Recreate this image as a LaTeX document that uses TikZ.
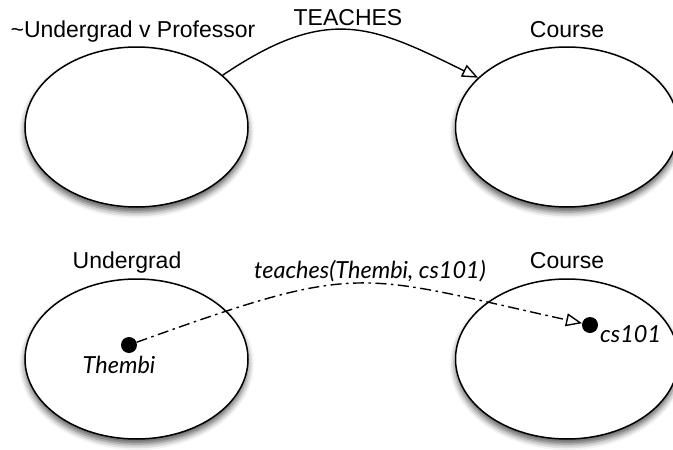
\documentclass[tikz,border=0pt]{standalone}
\usepackage{fontspec}
\setmainfont{Liberation Sans}
\newfontfamily\lato{Lato}
\usetikzlibrary{shapes.geometric, arrows.meta, shadows.blur}

\tikzset{
  setshape/.style={ellipse, draw, line width=1.5pt, fill=white,
    minimum width=223pt, minimum height=160pt, inner sep=0pt,
    blur shadow={shadow xshift=0pt, shadow yshift=-5pt,
      shadow blur radius=6pt, shadow opacity=65}},
  member/.style={circle, fill=black, minimum size=16pt, inner sep=0pt},
  lbl/.style={font=\fontsize{23}{26}\selectfont, anchor=base, inner sep=0pt},
  ilbl/.style={font=\lato\itshape\fontsize{23.5}{26}\selectfont, anchor=base, inner sep=0pt},
  conn/.style={line width=1.4pt, -{Triangle[open, fill=white, length=16pt, width=13pt, line width=1.4pt]}},
  dashdot/.style={dash pattern=on 11pt off 4.5pt on 2.5pt off 4.5pt}
}

\begin{document}
\begin{tikzpicture}[x=1pt, y=-1pt]
\useasboundingbox (0,0) rectangle (673,450);

% the four sets
\node[setshape] (tl) at (136.5,127) {};
\node[setshape] (tr) at (567,127) {};
\node[setshape] (bl) at (136.5,359) {};
\node[setshape] (br) at (567,359) {};

% set labels
\node[lbl] (ltl) at (133,37) {\textasciitilde Undergrad v Professor};
\node[lbl] (ltr) at (567,37) {Course};
\node[lbl] (lbl) at (127,268) {Undergrad};
\node[lbl] (lbr) at (567,268) {Course};

% relation between the sets
\draw[conn] (tl.31) .. controls (328,4) and (372,25.5) .. (tr.151);
\node[lbl] (rel) at (348,25) {TEACHES};

% individual members and the relation instance
\node[member] (th) at (129,345) {};
\node[member] (cs) at (590,325) {};
\node[ilbl] (thl) at (119,373) {Thembi};
\node[ilbl, anchor=base west] (csl) at (600,342) {cs101};
\draw[conn, dashdot] (th) .. controls (363,261) and (354,273) .. (cs);
\node[ilbl] (inst) at (370,278) {teaches(Thembi, cs101)};
\end{tikzpicture}
\end{document}
